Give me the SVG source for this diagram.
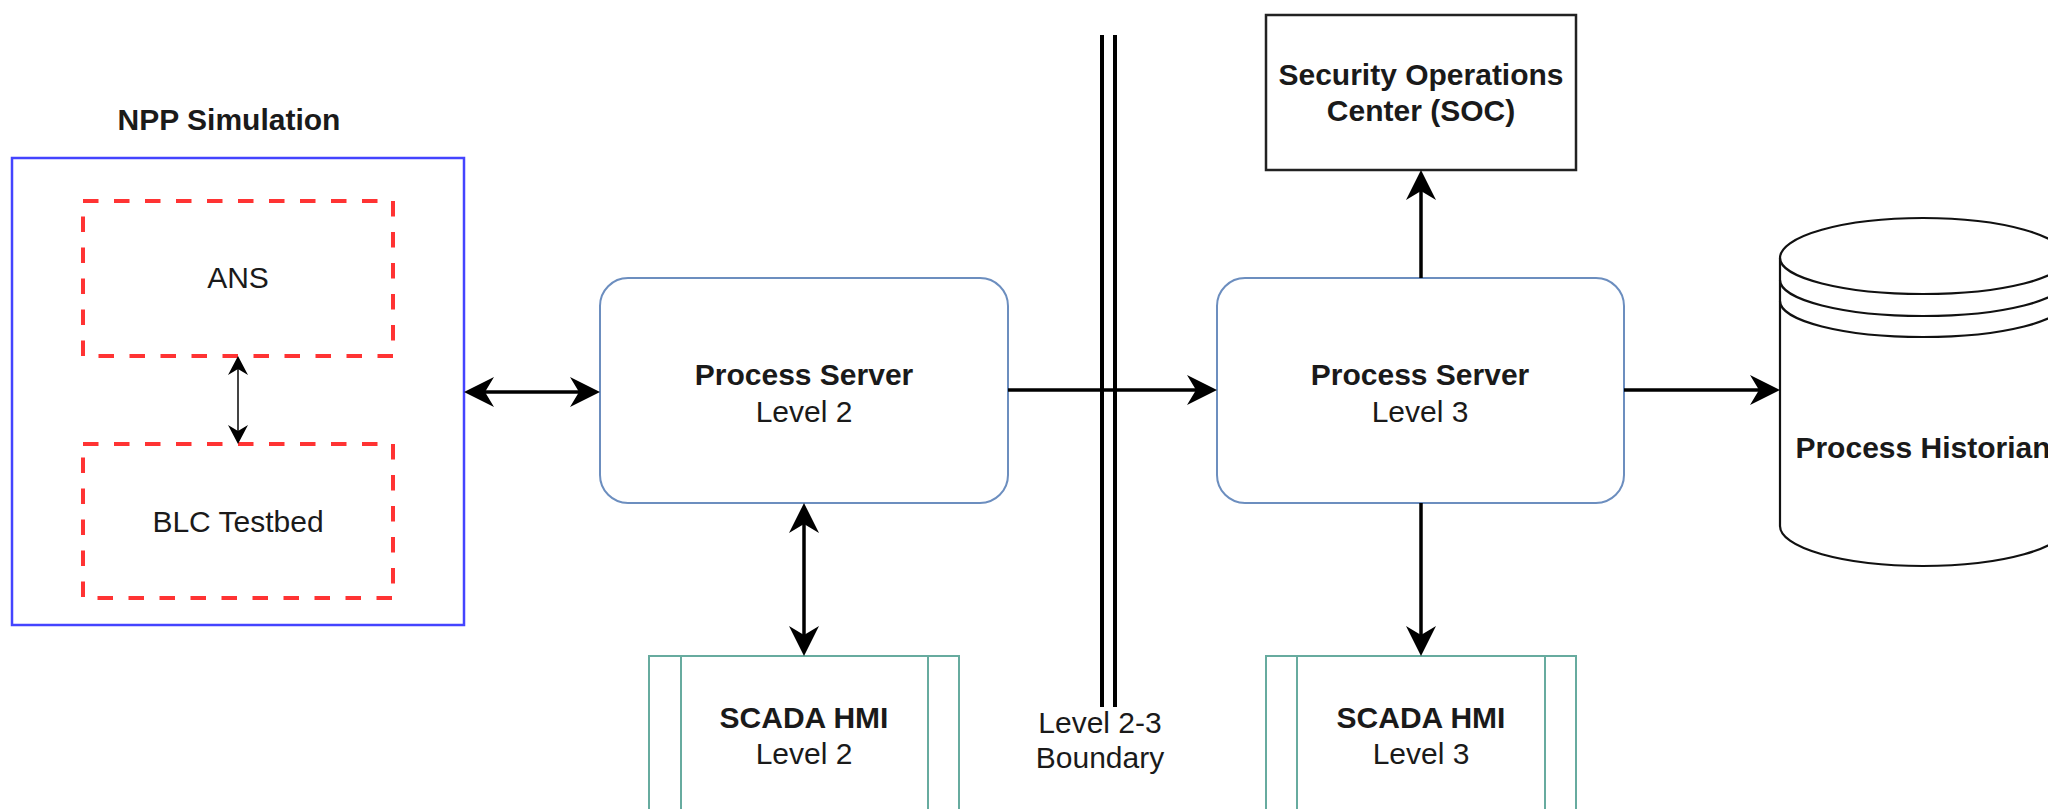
<svg xmlns="http://www.w3.org/2000/svg" width="2048" height="809" viewBox="0 0 2048 809">
<style>
text{font-family:"Liberation Sans",Arial,sans-serif;font-size:30px;fill:#1a1a1a;text-anchor:middle}
.b{font-weight:bold}
.npp{fill:#fff;stroke:#4444ff;stroke-width:2.5}
.dash{fill:none;stroke:#ff3333;stroke-width:4;stroke-dasharray:15.5 15.5}
.ps{fill:#fff;stroke:#6c8ebf;stroke-width:2}
.hmi{fill:#fff;stroke:#67ab9f;stroke-width:2}
.soc{fill:#fff;stroke:#222;stroke-width:2.5}
.db{fill:#fff;stroke:#111;stroke-width:2.2}
.c{fill:none;stroke:#000;stroke-width:3.5}
.cs{fill:none;stroke:#444;stroke-width:2}
.bd{fill:none;stroke:#000;stroke-width:4}
</style>
<defs>
<marker id="ah" markerUnits="userSpaceOnUse" viewBox="0 -16 31 32" markerWidth="31" markerHeight="32" refX="9" refY="0" orient="auto-start-reverse">
<path d="M0,-15 L30,0 L0,15 L9,0 Z" fill="#000"/>
</marker>
<marker id="ahs" markerUnits="userSpaceOnUse" viewBox="0 -11 20 22" markerWidth="20" markerHeight="22" refX="6" refY="0" orient="auto-start-reverse">
<path d="M0,-10 L19,0 L0,10 L6,0 Z" fill="#000"/>
</marker>
</defs>
<g id="npp-simulation">
<text class="b" x="229" y="130">NPP Simulation</text>
<rect class="npp" x="12" y="158" width="452" height="467"/>
</g>
<g id="ans">
<rect class="dash" x="83" y="201" width="310" height="155"/>
<text x="238" y="288">ANS</text>
</g>
<g id="blc-testbed">
<rect class="dash" x="83" y="444" width="310" height="154"/>
<text x="238" y="532">BLC Testbed</text>
</g>
<g id="process-server-l2">
<rect class="ps" x="600" y="278" width="408" height="225" rx="28"/>
<text class="b" x="804" y="385">Process Server</text>
<text x="804" y="422">Level 2</text>
</g>
<g id="process-server-l3">
<rect class="ps" x="1217" y="278" width="407" height="225" rx="28"/>
<text class="b" x="1420" y="385">Process Server</text>
<text x="1420" y="422">Level 3</text>
</g>
<g id="soc">
<rect class="soc" x="1266" y="15" width="310" height="155"/>
<text class="b" x="1421" y="85">Security Operations</text>
<text class="b" x="1421" y="121">Center (SOC)</text>
</g>
<g id="scada-hmi-l2">
<rect class="hmi" x="649" y="656" width="310" height="154"/>
<line class="hmi" x1="681" y1="656" x2="681" y2="810"/>
<line class="hmi" x1="928" y1="656" x2="928" y2="810"/>
<text class="b" x="804" y="728">SCADA HMI</text>
<text x="804" y="764">Level 2</text>
</g>
<g id="scada-hmi-l3">
<rect class="hmi" x="1266" y="656" width="310" height="154"/>
<line class="hmi" x1="1297" y1="656" x2="1297" y2="810"/>
<line class="hmi" x1="1545" y1="656" x2="1545" y2="810"/>
<text class="b" x="1421" y="728">SCADA HMI</text>
<text x="1421" y="764">Level 3</text>
</g>
<g id="process-historian">
<path class="db" d="M1780,258 A143,40 0 0 1 2066,258 L2066,526 A143,40 0 0 1 1780,526 Z"/>
<path class="db" d="M1780,258 A143,36 0 0 0 2066,258 M1780,280 A143,36 0 0 0 2066,280 M1780,301 A143,36 0 0 0 2066,301" style="fill:none"/>
<text class="b" x="1923" y="458">Process Historian</text>
</g>
<g id="boundary">
<line class="bd" x1="1102" y1="35" x2="1102" y2="707"/>
<line class="bd" x1="1115" y1="35" x2="1115" y2="707"/>
<text x="1100" y="733">Level 2-3</text>
<text x="1100" y="768">Boundary</text>
</g>
<g id="connectors">
<line class="c" x1="485" y1="392" x2="579" y2="392" marker-start="url(#ah)" marker-end="url(#ah)"/>
<line class="cs" x1="238" y1="369" x2="238" y2="431" marker-start="url(#ahs)" marker-end="url(#ahs)"/>
<line class="c" x1="1008" y1="390" x2="1196" y2="390" marker-end="url(#ah)"/>
<line class="c" x1="804" y1="524" x2="804" y2="635" marker-start="url(#ah)" marker-end="url(#ah)"/>
<line class="c" x1="1421" y1="278" x2="1421" y2="191" marker-end="url(#ah)"/>
<line class="c" x1="1421" y1="503" x2="1421" y2="635" marker-end="url(#ah)"/>
<line class="c" x1="1624" y1="390" x2="1759" y2="390" marker-end="url(#ah)"/>
</g>
</svg>
